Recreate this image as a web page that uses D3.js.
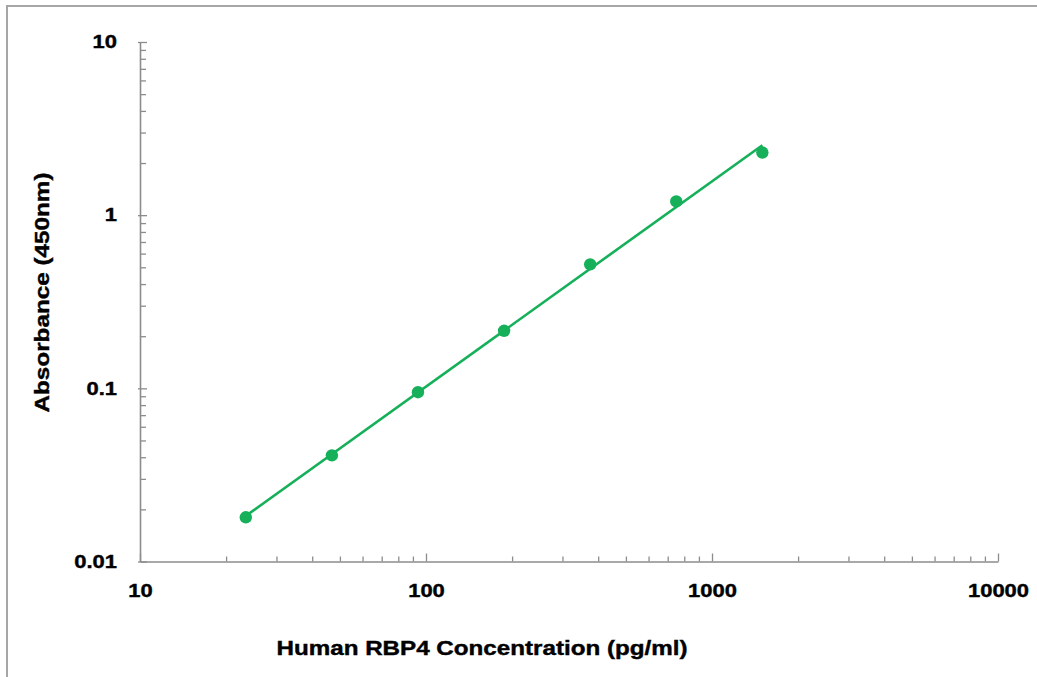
<!DOCTYPE html>
<html>
<head>
<meta charset="utf-8">
<script src="https://cdn.jsdelivr.net/npm/d3@7"></script>
<style>
  body { margin: 0; background: #fff; }
  text { font-family: "Liberation Sans", Arial, sans-serif; font-weight: bold; fill: #000; stroke: #000; stroke-width: 0.4px; }
</style>
</head>
<body>
<svg width="1037" height="677"></svg>
<script>
// standard curve points
var concentration = [23.4375, 46.875, 93.75, 187.5, 375, 750, 1500]
var absorbance = [0.018, 0.041, 0.095, 0.215, 0.52, 1.2, 2.3]

var xMajor = [10, 100, 1000, 10000]
var yMajor = [0.01, 0.1, 1, 10]
var xTitle = 'Human RBP4 Concentration (pg/ml)'
var yTitle = 'Absorbance (450nm)'

var green = '#16b05a'
var axisColor = '#8c8c8c'
var sx = 1.22 // text in the picture is wider than the font

var svg = d3.select('svg')

// outer frame (only top and left edges are visible)
svg.append('rect')
  .attr('x', 7).attr('y', 6)
  .attr('width', 1100).attr('height', 720)
  .attr('fill', 'none')
  .attr('stroke', '#a6a6a6')
  .attr('stroke-width', 2)

var x = d3.scaleLog().domain([10, 10000]).range([140, 998])
var y = d3.scaleLog().domain([0.01, 10]).range([561.5, 42])

function minors(scale) {
  var out = []
  var d = scale.domain()
  for (var p = d[0]; p < d[1]; p *= 10) {
    for (var k = 2; k <= 9; k++) out.push(p * k)
  }
  return out
}

function styleAxis(g) {
  g.select('.domain').attr('stroke', axisColor).attr('stroke-width', 1.6)
  g.selectAll('.tick line').attr('stroke', axisColor).attr('stroke-width', 1.3)
}

// x axis
var gxMinor = svg.append('g')
  .attr('transform', 'translate(0,561.5)')
  .call(d3.axisBottom(x).tickValues(minors(x)).tickFormat('').tickSize(-5))
gxMinor.select('.domain').remove()
gxMinor.selectAll('.tick line').attr('stroke', axisColor).attr('stroke-width', 1.3)

var gx = svg.append('g')
  .attr('transform', 'translate(0,561.5)')
  .call(d3.axisBottom(x).tickValues(xMajor).tickFormat(d3.format('d')).tickSize(-8).tickPadding(23).tickSizeOuter(0))
styleAxis(gx)
gx.selectAll('.tick text')
  .attr('font-size', 18)
  .attr('font-family', null)
  .attr('fill', null)
  .attr('transform', 'scale(' + sx + ',1)')

// y axis
var gyMinor = svg.append('g')
  .attr('transform', 'translate(140,0)')
  .call(d3.axisLeft(y).tickValues(minors(y)).tickFormat('').tickSize(-6))
gyMinor.select('.domain').remove()
gyMinor.selectAll('.tick line').attr('stroke', axisColor).attr('stroke-width', 1.3)

var gy = svg.append('g')
  .attr('transform', 'translate(140,0)')
  .call(d3.axisLeft(y).tickValues(yMajor).tickFormat(function(d) { return String(d) }).tickSize(-7).tickSizeOuter(0))
styleAxis(gy)
gy.selectAll('.tick line').attr('x1', -2)
gy.selectAll('.tick text')
  .attr('font-size', 18)
  .attr('font-family', null)
  .attr('fill', null)
  .attr('x', -23 / sx)
  .attr('transform', 'scale(' + sx + ',1)')

// power-law trendline (least squares in log-log)
var lx = concentration.map(Math.log10)
var ly = absorbance.map(Math.log10)
var mx = d3.mean(lx), my = d3.mean(ly)
var sxy = d3.sum(lx, function(v, i) { return (v - mx) * (ly[i] - my) })
var sxx = d3.sum(lx, function(v) { return (v - mx) * (v - mx) })
var slope = sxy / sxx
var icpt = my - slope * mx
function fit(c) { return Math.pow(10, icpt + slope * Math.log10(c)) }

var ends = [d3.min(concentration), d3.max(concentration)]
svg.append('path')
  .datum(ends)
  .attr('fill', 'none')
  .attr('stroke', green)
  .attr('stroke-width', 2.6)
  .attr('d', d3.line()
    .x(function(d) { return x(d) })
    .y(function(d) { return y(fit(d)) }))

// points
svg.append('g')
  .selectAll('circle')
  .data(concentration)
  .enter()
  .append('circle')
  .attr('cx', function(d) { return x(d) })
  .attr('cy', function(d, i) { return y(absorbance[i]) })
  .attr('r', 6.2)
  .attr('fill', green)

// titles
svg.append('text')
  .attr('x', 482).attr('y', 655)
  .attr('text-anchor', 'middle')
  .attr('font-size', 19.5)
  .attr('textLength', 411)
  .attr('lengthAdjust', 'spacingAndGlyphs')
  .text(xTitle)

svg.append('text')
  .attr('transform', 'translate(49,292.5) rotate(-90)')
  .attr('text-anchor', 'middle')
  .attr('font-size', 19.5)
  .attr('textLength', 240)
  .attr('lengthAdjust', 'spacingAndGlyphs')
  .text(yTitle)
</script>
</body>
</html>
